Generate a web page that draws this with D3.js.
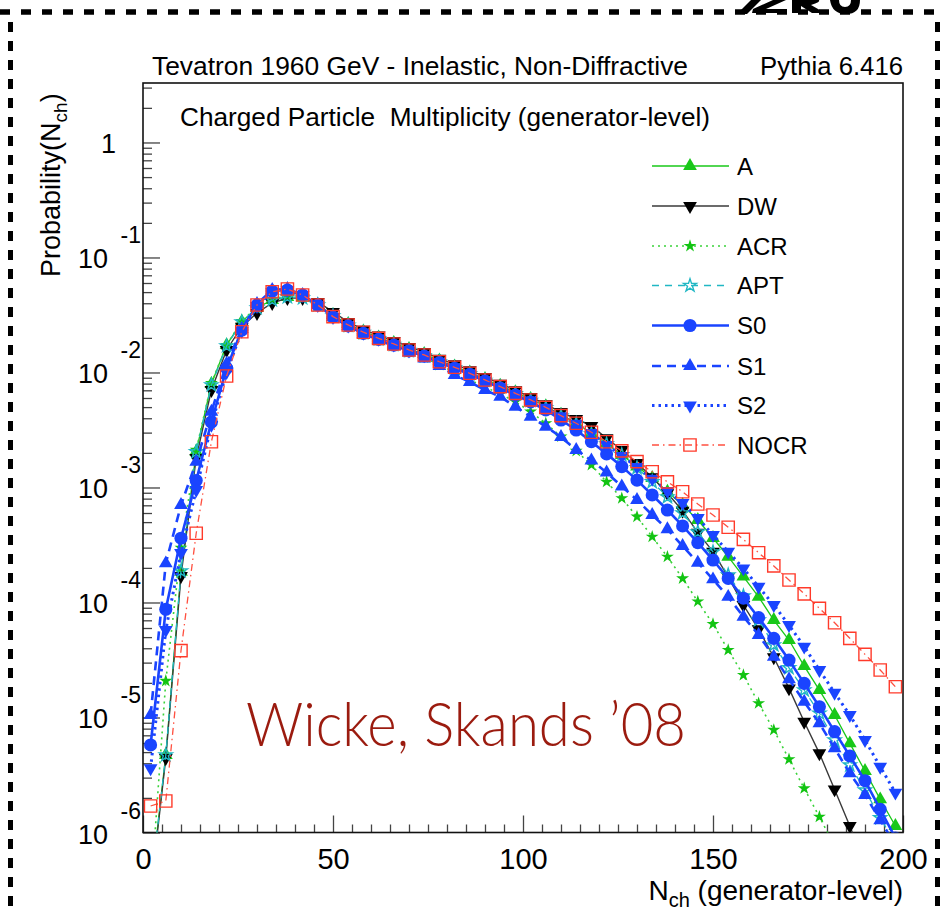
<!DOCTYPE html>
<html><head><meta charset="utf-8">
<script src="https://cdn.jsdelivr.net/npm/d3@7"></script>
<style>body{margin:0;background:#fff}svg{display:block}</style>
</head><body>
<svg id="chart" width="941" height="914"></svg>
<script>
// ---------------- DATA ----------------
const nch = [2,6,10,14,18,22,26,30,34,38,42,46,50,54,58,62,66,70,74,78,82,86,90,94,98,102,106,110,114,118,122,126,130,134,138,142,146,150,154,158,162,166,170,174,178,182,186,190,194,198];
const seriesNames = ["A","DW","ACR","APT","S0","S1","S2","NOCR"];
const valA = [3.23e-7,4.72e-6,1.85e-4,2.05e-3,7.94e-3,1.73e-2,2.77e-2,3.64e-2,4.27e-2,4.53e-2,4.49e-2,3.86e-2,3.16e-2,2.64e-2,2.28e-2,2.02e-2,1.81e-2,1.60e-2,1.45e-2,1.27e-2,1.13e-2,1.00e-2,8.78e-3,7.68e-3,6.73e-3,5.88e-3,5.08e-3,4.30e-3,3.64e-3,2.96e-3,2.42e-3,1.92e-3,1.52e-3,1.21e-3,9.19e-4,7.04e-4,5.22e-4,3.64e-4,2.50e-4,1.68e-4,1.12e-4,7.04e-5,4.72e-5,2.80e-5,1.73e-5,1.05e-5,5.96e-6,3.43e-6,1.94e-6,1.14e-6];
const valDW = [2.98e-7,4.44e-6,1.70e-4,1.81e-3,7.04e-3,1.57e-2,2.50e-2,3.29e-2,4.02e-2,4.44e-2,4.44e-2,4.10e-2,3.36e-2,2.75e-2,2.36e-2,2.10e-2,1.88e-2,1.67e-2,1.51e-2,1.32e-2,1.18e-2,1.045e-2,9.14e-3,7.99e-3,7.00e-3,6.12e-3,5.29e-3,4.53e-3,3.94e-3,3.43e-3,2.68e-3,2.12e-3,1.63e-3,1.23e-3,8.90e-4,6.28e-4,4.05e-4,2.77e-4,1.67e-4,9.51e-5,5.85e-5,3.34e-5,1.79e-5,9.19e-6,4.88e-6,2.37e-6,1.14e-6,5.22e-7,2.34e-7,1.05e-7];
const valACR = [2.86e-7,2.08e-5,2.98e-4,2.12e-3,8.10e-3,1.73e-2,2.80e-2,3.71e-2,4.36e-2,4.63e-2,4.44e-2,3.79e-2,3.04e-2,2.49e-2,2.15e-2,1.91e-2,1.70e-2,1.51e-2,1.35e-2,1.16e-2,1.01e-2,8.61e-3,7.48e-3,6.50e-3,5.57e-3,4.56e-3,3.62e-3,2.77e-3,2.08e-3,1.57e-3,1.12e-3,8.06e-4,5.57e-4,3.73e-4,2.50e-4,1.62e-4,1.02e-4,6.50e-5,3.86e-5,2.34e-5,1.33e-5,7.79e-6,4.33e-6,2.42e-6,1.37e-6,7.63e-7,4.02e-7,2.04e-7,9.9e-8,4.72e-8];
const valAPT = [3.23e-7,4.72e-6,1.88e-4,2.04e-3,7.79e-3,1.70e-2,2.75e-2,3.64e-2,4.27e-2,4.53e-2,4.44e-2,3.86e-2,3.10e-2,2.57e-2,2.22e-2,1.96e-2,1.75e-2,1.55e-2,1.40e-2,1.23e-2,1.10e-2,9.75e-3,8.52e-3,7.45e-3,6.52e-3,5.71e-3,4.93e-3,4.17e-3,3.58e-3,2.92e-3,2.39e-3,1.92e-3,1.48e-3,1.12e-3,8.27e-4,6.00e-4,4.10e-4,2.75e-4,1.73e-4,1.14e-4,7.04e-5,4.27e-5,2.70e-5,1.73e-5,1.09e-5,6.37e-6,3.86e-6,2.34e-6,1.34e-6,8.10e-7];
const valS0 = [5.77e-6,8.73e-5,3.62e-4,1.15e-3,3.71e-3,1.09e-2,2.34e-2,3.86e-2,5.11e-2,5.22e-2,4.72e-2,3.86e-2,3.04e-2,2.54e-2,2.19e-2,1.94e-2,1.73e-2,1.54e-2,1.39e-2,1.22e-2,1.09e-2,9.65e-3,8.44e-3,7.33e-3,6.37e-3,5.54e-3,4.72e-3,3.86e-3,3.16e-3,2.50e-3,1.96e-3,1.52e-3,1.16e-3,8.61e-4,6.37e-4,4.63e-4,3.31e-4,2.34e-4,1.62e-4,1.09e-4,7.38e-5,4.88e-5,3.16e-5,1.98e-5,1.24e-5,7.53e-6,4.63e-6,2.82e-6,1.59e-6,8.96e-7];
const valS1 = [1.05e-5,2.19e-4,7.04e-4,1.67e-3,4.56e-3,1.19e-2,2.39e-2,3.94e-2,5.22e-2,5.32e-2,4.72e-2,3.86e-2,3.04e-2,2.54e-2,2.18e-2,1.92e-2,1.70e-2,1.49e-2,1.32e-2,1.14e-2,9.51e-3,8.27e-3,7.04e-3,6.16e-3,5.04e-3,4.13e-3,3.38e-3,2.75e-3,2.12e-3,1.72e-3,1.35e-3,1.02e-3,7.79e-4,5.77e-4,4.33e-4,3.10e-4,2.22e-4,1.59e-4,1.12e-4,7.53e-5,5.22e-5,3.38e-5,2.15e-5,1.37e-5,8.90e-6,5.40e-6,3.27e-6,2.12e-6,1.28e-6,7.79e-7];
const valS2 = [3.62e-6,5.77e-5,2.70e-4,9.51e-4,3.50e-3,1.01e-2,2.30e-2,3.79e-2,5.01e-2,5.22e-2,4.72e-2,3.86e-2,3.04e-2,2.56e-2,2.21e-2,1.96e-2,1.75e-2,1.55e-2,1.41e-2,1.23e-2,1.10e-2,9.75e-3,8.52e-3,7.45e-3,6.52e-3,5.71e-3,4.93e-3,4.17e-3,3.58e-3,2.98e-3,2.34e-3,1.88e-3,1.51e-3,1.19e-3,9.32e-4,7.33e-4,5.43e-4,3.86e-4,2.77e-4,1.98e-4,1.37e-4,9.51e-5,6.37e-5,4.13e-5,2.59e-5,1.64e-5,1.05e-5,6.37e-6,3.73e-6,2.22e-6];
const valNOCR = [1.70e-6,1.88e-6,3.81e-5,4.00e-4,2.50e-3,9.32e-3,2.26e-2,3.86e-2,5.04e-2,5.32e-2,4.72e-2,3.86e-2,3.06e-2,2.59e-2,2.24e-2,1.98e-2,1.77e-2,1.57e-2,1.42e-2,1.24e-2,1.11e-2,9.84e-3,8.61e-3,7.53e-3,6.59e-3,5.77e-3,4.98e-3,4.21e-3,3.62e-3,3.02e-3,2.50e-3,2.08e-3,1.68e-3,1.37e-3,1.12e-3,9.19e-4,7.19e-4,5.77e-4,4.51e-4,3.54e-4,2.71e-4,2.08e-4,1.57e-4,1.19e-4,8.90e-5,6.67e-5,4.88e-5,3.54e-5,2.59e-5,1.85e-5];
const xTickValues = [0,50,100,150,200];
const xTickLabels = ["0","50","100","150","200"];
const yTickValues = [1,1e-1,1e-2,1e-3,1e-4,1e-5,1e-6];
const yTickBase = ["1","10","10","10","10","10","10"];
const yTickExp = ["","-1","-2","-3","-4","-5","-6"];
const titleLeft = "Tevatron 1960 GeV - Inelastic, Non-Diffractive";
const titleRight = "Pythia 6.416";
const subTitle = "Charged Particle  Multiplicity (generator-level)";
const watermark = "Wicke, Skands \u201908";

// ---------------- STYLE ----------------
const values = [valA,valDW,valACR,valAPT,valS0,valS1,valS2,valNOCR];
const styles = [
  {color:"#19c819", lc:"#19c819", w:1.3, dash:null, sym:"triUp", fill:true},
  {color:"#000000", lc:"#3a3a3a", w:1.4, dash:null, sym:"triDown", fill:true},
  {color:"#12c412", lc:"#3ad23a", w:1.6, dash:"2,4", sym:"star", fill:true},
  {color:"#20b7c4", lc:"#20b7c4", w:1.3, dash:"7,6", sym:"star", fill:false},
  {color:"#1a44ff", lc:"#1a44ff", w:2.6, dash:null, sym:"circle", fill:true},
  {color:"#1a44ff", lc:"#1a44ff", w:2.6, dash:"9,6", sym:"triUp", fill:true},
  {color:"#1a44ff", lc:"#1a44ff", w:3.0, dash:"2.5,4", sym:"triDown", fill:true},
  {color:"#ff3a2a", lc:"#ff5040", w:1.3, dash:"7,4,1.5,4", sym:"square", fill:false}
];

const svg = d3.select("#chart");
const x = d3.scaleLinear().domain([0,200]).range([143,903]);
const y = d3.scaleLog().domain([1e-6,3.29]).range([832.5,83]);
const FR = {x:143, y:83, w:760, h:749.5};

function symPath(sym){
  if(sym==="triUp"||sym==="triDown") return d3.symbol(d3.symbolTriangle,82)();
  if(sym==="circle") return d3.symbol(d3.symbolCircle,135)();
  if(sym==="star") return d3.symbol(d3.symbolStar,52)();
  if(sym==="square") return d3.symbol(d3.symbolSquare,150)();
}
function drawMarker(g,sym,st,cx,cy){
  const p = g.append("path").attr("d",symPath(sym))
    .attr("transform",`translate(${cx},${cy})`+(sym==="triDown"?" rotate(180)":""));
  if(st.fill) p.attr("fill",st.color).attr("stroke","none");
  else p.attr("fill","none").attr("stroke",st.color).attr("stroke-width",1.4);
}

// ---------------- FRAME DECORATION ----------------
svg.append("rect").attr("width",941).attr("height",914).attr("fill","#fff");
const deco = svg.append("g");
deco.append("line").attr("x1",0).attr("x2",941).attr("y1",12).attr("y2",12)
  .attr("stroke","#000").attr("stroke-width",5.5).attr("stroke-dasharray","10,11");
deco.append("line").attr("x1",10.5).attr("x2",10.5).attr("y1",22).attr("y2",914)
  .attr("stroke","#000").attr("stroke-width",5).attr("stroke-dasharray","10,9");
deco.append("line").attr("x1",937.5).attr("x2",937.5).attr("y1",22).attr("y2",914)
  .attr("stroke","#000").attr("stroke-width",5).attr("stroke-dasharray","10,9");
["M737,14 L747,14 L761,0 L751,0Z",
 "M752,13 L787,13 L787,9 L766,9 L786,0 L773,0 L753,9Z",
 "M792,13 L801,13 L801,6 L812,13 L825,13 L811,5 Q821,2 819,0 L792,0Z",
 "M830,0 Q832,14 846,14 Q860,14 860,0 L851,0 Q851,7 845,7 Q839,7 839,0Z"].forEach(d=>{
  deco.append("path").attr("d",d).attr("fill","#000");
});

// ---------------- TEXTS ----------------
const fontNarrow = "'Liberation Sans Narrow','Liberation Sans',Arial,sans-serif";
svg.append("text").attr("x",152).attr("y",75).attr("font-family",fontNarrow)
  .attr("font-size",25).attr("textLength",536).attr("lengthAdjust","spacingAndGlyphs").text(titleLeft);
svg.append("text").attr("x",760).attr("y",75).attr("font-family",fontNarrow)
  .attr("font-size",25).attr("textLength",143).attr("lengthAdjust","spacingAndGlyphs").text(titleRight);
svg.append("text").attr("x",180).attr("y",126).attr("font-family",fontNarrow)
  .attr("font-size",25).attr("textLength",530).attr("lengthAdjust","spacingAndGlyphs").attr("xml:space","preserve").text(subTitle);

// ---------------- AXES ----------------
const fontAx = "'Liberation Sans',Arial,Helvetica,sans-serif";
const minorX = d3.range(0,201,5).filter(v=>v%50!==0);
const gxMinor = svg.append("g").attr("transform","translate(0,832.5)")
  .call(d3.axisBottom(x).tickValues(minorX).tickSize(-8).tickFormat(""));
const gxMajor = svg.append("g").attr("transform","translate(0,832.5)")
  .call(d3.axisBottom(x).tickValues(xTickValues).tickSize(-17).tickPadding(16)
  .tickFormat((d,i)=>xTickLabels[i]));
gxMajor.selectAll("text").attr("font-size",29).attr("font-family",fontAx).attr("fill","#000");
const minorY = [];
for(let e=-6;e<=0;e++) for(let k=2;k<=9;k++){const v=k*Math.pow(10,e); if(v<=3.29) minorY.push(v);}
const gyMinor = svg.append("g").attr("transform","translate(143,0)")
  .call(d3.axisLeft(y).tickValues(minorY).tickSize(-9).tickFormat(""));
const gyMajor = svg.append("g").attr("transform","translate(143,0)")
  .call(d3.axisLeft(y).tickValues(yTickValues).tickSize(-17).tickFormat(""));
[gxMinor,gxMajor,gyMinor,gyMajor].forEach(g=>{
  g.select(".domain").remove();
  g.selectAll(".tick line").attr("stroke","#444").attr("stroke-width",1.3);
});
// y tick labels
yTickValues.forEach((v,i)=>{
  const yy = y(v);
  if(yTickExp[i]===""){
    svg.append("text").attr("x",116).attr("y",yy+11).attr("text-anchor","end")
      .attr("font-family",fontAx).attr("font-size",27).text(yTickBase[i]);
  } else {
    svg.append("text").attr("x",108).attr("y",yy+11).attr("text-anchor","end")
      .attr("font-family",fontAx).attr("font-size",27).text(yTickBase[i]);
    svg.append("text").attr("x",141).attr("y",yy-14).attr("text-anchor","end")
      .attr("font-family",fontAx).attr("font-size",23).text(yTickExp[i]);
  }
});
// frame
svg.append("rect").attr("x",FR.x).attr("y",FR.y).attr("width",FR.w).attr("height",FR.h)
  .attr("fill","none").attr("stroke","#111").attr("stroke-width",1.6);

// axis titles
const xt = svg.append("text").attr("x",903).attr("y",900).attr("text-anchor","end")
  .attr("font-family",fontAx).attr("font-size",28);
xt.append("tspan").text("N");
xt.append("tspan").attr("font-size",20).attr("dy",7).text("ch");
xt.append("tspan").attr("dy",-7).text(" (generator-level)");
const yt = svg.append("text").attr("transform","translate(60,277) rotate(-90)")
  .attr("font-family",fontAx).attr("font-size",27);
yt.append("tspan").text("Probability(N");
yt.append("tspan").attr("font-size",19).attr("dy",7).text("ch");
yt.append("tspan").attr("dy",-7).text(")");

// ---------------- WATERMARK ----------------
svg.append("text").attr("x",246).attr("y",746).attr("font-family","Lato,'Open Sans',sans-serif")
  .attr("font-weight",300).attr("font-size",62).attr("fill","#9b1b0f")
  .attr("textLength",440).attr("lengthAdjust","spacingAndGlyphs").text(watermark);

// ---------------- SERIES ----------------
svg.append("clipPath").attr("id","clipPlot").append("rect")
  .attr("x",FR.x).attr("y",FR.y).attr("width",FR.w).attr("height",FR.h);
const plot = svg.append("g").attr("clip-path","url(#clipPlot)");
const line = d3.line().x(d=>x(d[0])).y(d=>y(d[1]));
values.forEach((vals,si)=>{
  const st = styles[si];
  const pts = nch.map((n,i)=>[n,vals[i]]);
  const g = plot.append("g");
  g.append("path").attr("d",line(pts)).attr("fill","none").attr("stroke",st.lc)
    .attr("stroke-width",st.w).attr("stroke-dasharray",st.dash);
  pts.forEach(p=>{ if(p[1]>=6e-7) drawMarker(g,st.sym,st,x(p[0]),y(p[1])); });
});

// ---------------- LEGEND ----------------
const legY = [166,206,246,285.5,325.5,366,405.5,445];
const leg = svg.append("g");
seriesNames.forEach((name,i)=>{
  const st = styles[i];
  leg.append("line").attr("x1",652).attr("x2",729).attr("y1",legY[i]).attr("y2",legY[i])
    .attr("stroke",st.lc).attr("stroke-width",st.w).attr("stroke-dasharray",st.dash);
  drawMarker(leg,st.sym,st,690,legY[i]);
  leg.append("text").attr("x",737).attr("y",legY[i]+8.5).attr("font-family",fontAx)
    .attr("font-size",24).text(name);
});
</script>
</body></html>
